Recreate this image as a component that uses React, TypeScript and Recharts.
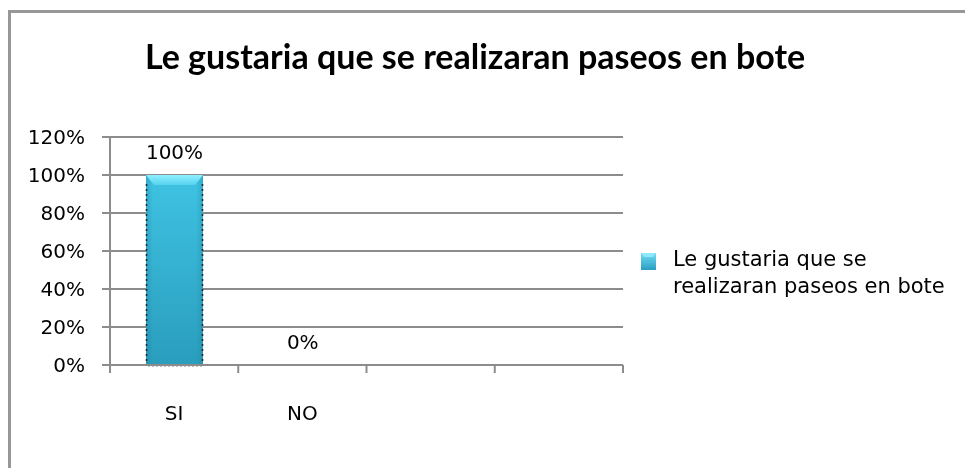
import React from 'react';
import { BarChart, Bar, XAxis, YAxis, CartesianGrid, Legend, LabelList } from 'recharts';

const categories = ['SI', 'NO', '', ''];
const values: (number | null)[] = [1, 0, null, null];
const yTicks = [0, 0.2, 0.4, 0.6, 0.8, 1, 1.2];
const seriesName = 'Le gustaria que se realizaran paseos en bote';
const legendLines = ['Le gustaria que se', 'realizaran paseos en bote'];
const title = 'Le gustaria que se realizaran paseos en bote';

const data = categories.map((c, i) => ({ name: c, value: values[i] }));

const LABEL_FONT = '"DejaVu Sans", sans-serif';
const GRID = '#8c8c8c';
const PLOT_W = 513;

const pct = (v: number) => `${Math.round(v * 100)}%`;

const BarShape = (props: any) => {
  const { x, y, width, height } = props;
  if (height == null || height <= 0) return null;
  const bev = Math.min(10, height);
  const dots = [];
  for (let yy = y + 10; yy < y + height; yy += 5) {
    dots.push(<circle key={'l' + yy} cx={x + 0.5} cy={yy} r={1} fill="#222" />);
    dots.push(<circle key={'r' + yy} cx={x + width - 0.5} cy={yy} r={1} fill="#222" />);
  }
  for (let xx = x + 3; xx < x + width; xx += 4) {
    dots.push(<circle key={'b' + xx} cx={xx} cy={y + height + 1} r={0.7} fill="#555" />);
  }
  return (
    <g>
      <rect x={x} y={y} width={width} height={height} fill="url(#barGrad)" />
      <rect x={x} y={y} width={width} height={height} fill="url(#barSide)" />
      <polygon
        points={`${x},${y} ${x + width},${y} ${x + width - 8},${y + bev} ${x + 8},${y + bev}`}
        fill="url(#bevGrad)"
      />
      {dots}
    </g>
  );
};

const XTick = (props: any) => {
  const { x, y, payload, index } = props;
  const band = (typeof props.width === 'number' && props.width > 100 ? props.width : PLOT_W) / categories.length;
  const left = x - band / 2;
  const right = x + band / 2;
  return (
    <g>
      <line x1={left} y1={y} x2={left} y2={y + 8} stroke={GRID} strokeWidth={2} />
      {index === categories.length - 1 && (
        <line x1={right} y1={y} x2={right} y2={y + 8} stroke={GRID} strokeWidth={2} />
      )}
      <text x={x} y={y + 55} textAnchor="middle" fontFamily={LABEL_FONT} fontSize={20} fill="#000">
        {payload.value}
      </text>
    </g>
  );
};

const ValueLabel = (props: any) => {
  const { x, y, width, value } = props;
  if (value == null) return null;
  return (
    <text x={x + width / 2} y={y - 16} textAnchor="middle" fontFamily={LABEL_FONT} fontSize={20} fill="#000">
      {pct(value)}
    </text>
  );
};

const LegendContent = () => (
  <div style={{ position: 'relative', width: 320, height: 60, fontFamily: LABEL_FONT, fontSize: 21, color: '#000' }}>
    <svg width={17} height={19} style={{ position: 'absolute', left: 0, top: 6 }}>
      <defs>
        <linearGradient id="legGrad" x1="0" y1="0" x2="0" y2="1">
          <stop offset="0%" stopColor="#6fdcf5" />
          <stop offset="100%" stopColor="#2a9ec0" />
        </linearGradient>
      </defs>
      <rect x={1} y={1} width={15} height={17} fill="url(#legGrad)" />
      <polygon points="1,1 16,1 13,5 4,5" fill="#8fe8fb" />
    </svg>
    <div style={{ position: 'absolute', left: 33, top: 0, lineHeight: '27px', whiteSpace: 'nowrap' }}>
      {legendLines.map((l, i) => (
        <div key={i}>{l}</div>
      ))}
    </div>
  </div>
);

export default function App() {
  return (
    <div style={{ position: 'relative', width: 957, height: 452, overflow: 'hidden', background: '#fff' }}>
      <div
        style={{
          position: 'fixed',
          top: 10,
          left: 8,
          width: 1200,
          height: 800,
          borderTop: '3px solid #979797',
          borderLeft: '3px solid #979797',
          pointerEvents: 'none',
        }}
      />
      <div
        style={{
          position: 'absolute',
          left: 0,
          width: 934,
          top: 28,
          textAlign: 'center',
          fontFamily: 'Lato, sans-serif',
          fontWeight: 700,
          fontSize: 34,
          lineHeight: '40px',
          color: '#000',
          whiteSpace: 'nowrap',
        }}
      >
        {title}
      </div>
      <BarChart width={957} height={452} data={data} margin={{ top: 129, right: 342, left: 0, bottom: 35 }}>
        <defs>
          <linearGradient id="barGrad" x1="0" y1="0" x2="0" y2="1">
            <stop offset="0%" stopColor="#3fc3e3" />
            <stop offset="100%" stopColor="#2a9dbd" />
          </linearGradient>
          <linearGradient id="barSide" x1="0" y1="0" x2="1" y2="0">
            <stop offset="0%" stopColor="#1c7f9c" stopOpacity={0.35} />
            <stop offset="12%" stopColor="#1c7f9c" stopOpacity={0} />
            <stop offset="88%" stopColor="#1c7f9c" stopOpacity={0} />
            <stop offset="100%" stopColor="#1c7f9c" stopOpacity={0.35} />
          </linearGradient>
          <linearGradient id="bevGrad" x1="0" y1="0" x2="0" y2="1">
            <stop offset="0%" stopColor="#8ff0ff" />
            <stop offset="100%" stopColor="#55d2ef" />
          </linearGradient>
        </defs>
        <CartesianGrid vertical={false} stroke={GRID} strokeWidth={2} />
        <XAxis
          dataKey="name"
          height={60}
          axisLine={{ stroke: GRID, strokeWidth: 2 }}
          tickLine={false}
          tickSize={0}
          tickMargin={0}
          tick={<XTick />}
          interval={0}
        />
        <YAxis
          width={102}
          domain={[0, 1.2]}
          ticks={yTicks}
          tickFormatter={pct}
          axisLine={{ stroke: GRID, strokeWidth: 2 }}
          tickLine={{ stroke: GRID, strokeWidth: 2 }}
          tickSize={8}
          tickMargin={17}
          tick={{ fontFamily: LABEL_FONT, fontSize: 20, fill: '#000' }}
          interval={0}
        />
        <Legend
          layout="vertical"
          align="center"
          verticalAlign="middle"
          wrapperStyle={{ left: 632, top: 238, width: 320 }}
          content={<LegendContent />}
        />
        <Bar dataKey="value" name={seriesName} barSize={57} shape={<BarShape />} isAnimationActive={false}>
          <LabelList dataKey="value" content={<ValueLabel />} />
        </Bar>
      </BarChart>
    </div>
  );
}
